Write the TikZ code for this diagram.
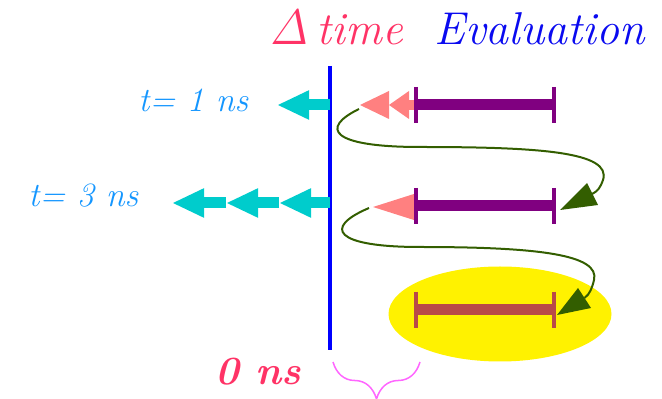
\documentclass[tikz,border=0pt]{standalone}
\usepackage{tikz}
\usetikzlibrary{arrows.meta,decorations.pathreplacing}
\definecolor{deltapink}{RGB}{255,51,102}
\definecolor{evalblue}{RGB}{10,10,240}
\definecolor{timeblue}{RGB}{20,150,255}
\definecolor{stepcyan}{RGB}{0,204,204}
\definecolor{evalpurple}{RGB}{128,0,128}
\definecolor{lastred}{RGB}{185,74,72}
\definecolor{backsalmon}{RGB}{255,128,128}
\definecolor{loopgreen}{RGB}{51,94,0}
\definecolor{bracepink}{RGB}{255,102,255}

\begin{document}
\begin{tikzpicture}[x=0.5pt,y=-0.5pt,
  lbl/.style={anchor=base,inner sep=0pt},
  stepline/.style={stepcyan,line width=5.5pt,-{Triangle[length=16pt,width=13.5pt]}},
  loopline/.style={loopgreen,line width=1pt}]
\useasboundingbox (0,0) rectangle (662,399);
% headings
\node[lbl,text=deltapink] (dtime) at (336.5,45) {\fontsize{23}{28}\selectfont$\mathit{\Delta}$\,\textit{time}};
\node[lbl,text=evalblue] (evalhead) at (540,45) {\fontsize{23}{28}\selectfont\textit{Evaluation}};
\node[lbl,text=timeblue] (tone) at (193.5,112) {\fontsize{17}{20}\selectfont\textit{t= 1 ns}};
\node[lbl,text=timeblue] (tthree) at (83.5,207) {\fontsize{17}{20}\selectfont\textit{t= 3 ns}};
\node[lbl,text=deltapink] (tzero) at (258.5,385) {\fontsize{20}{24}\selectfont\textbf{\textit{0 ns}}};
% time axis
\draw[blue,line width=1.6pt] (330,66) coordinate (axtop) -- (330,350) coordinate (axbot);
\coordinate (v1) at (330,105);
\coordinate (v2) at (330,203);
% steps back in time
\draw[stepline] (v1) -- (277,105);
\foreach \a/\b in {330/279,279/226,226/172}
  \draw[stepline] (\a,203) -- (\b,203);
% highlight of the last evaluation
\fill[yellow] (500,314) ellipse [x radius=55.75pt,y radius=23.75pt];
% delta arrows
\fill[backsalmon] (360,105) -- (389,91) -- (389,119) -- cycle;
\fill[backsalmon] (389,105) -- (409,91) -- (409,119) -- cycle;
\fill[backsalmon] (409,100) rectangle (416,110);
\fill[backsalmon] (373,207) -- (417,193) -- (417,221) -- cycle;
% evaluation intervals
\foreach \y/\c [count=\i] in {105/evalpurple,206/evalpurple,310/lastred}{
  \coordinate (s\i) at (416,\y);
  \coordinate (e\i) at (554,\y);
  \draw[\c,line width=5.5pt] (s\i) -- (e\i);
  \draw[\c,line width=2pt] (416,\y-18) -- (416,\y+18);
  \draw[\c,line width=2pt] (554,\y-18) -- (554,\y+18);
}
% loops to the next evaluation
\draw[loopline] (359,109) .. controls (320,128) and (330,147) .. (420,147)
  .. controls (540,147) and (612,152) .. (603,180)
  .. controls (600,188) and (598,191) .. (592,194);
\fill[loopgreen] (560,210) -- (587,183) -- (598,205) -- cycle;
\draw[loopline] (369,208) .. controls (322,228) and (335,247) .. (420,247)
  .. controls (540,247) and (600,255) .. (594,280)
  .. controls (592,288) and (590,294) .. (584.5,298);
\fill[loopgreen] (557,315) -- (578,288) -- (591,308) -- cycle;
% delta span
\draw[bracepink,line width=0.75pt,decorate,decoration={brace,mirror,amplitude=18.5pt}]
  (333,362) -- (420,362);
\end{tikzpicture}
\end{document}
